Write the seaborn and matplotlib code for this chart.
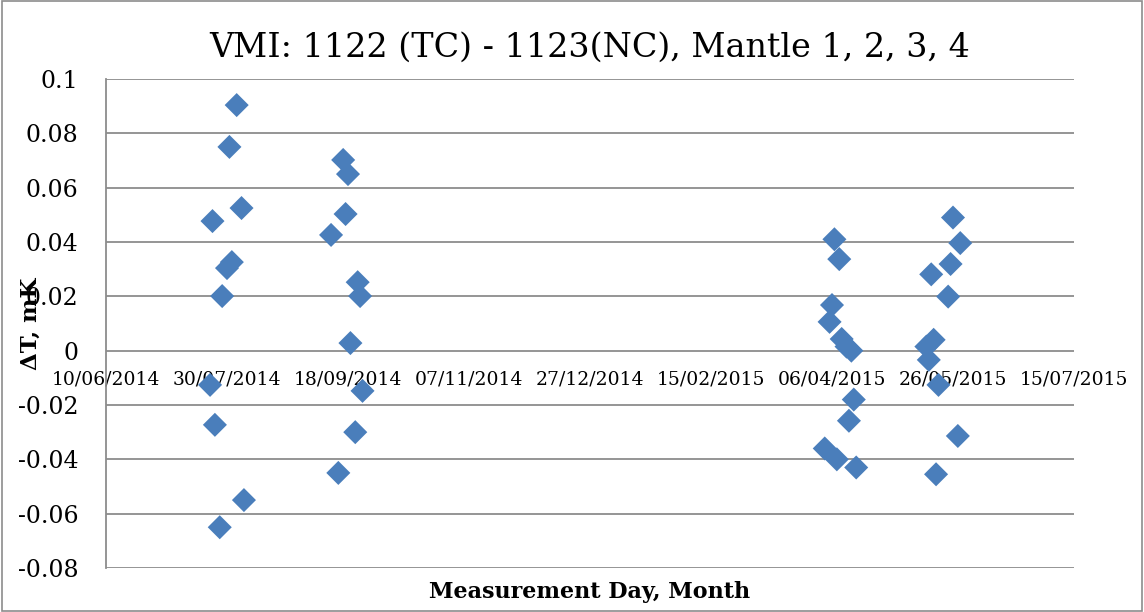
import matplotlib
matplotlib.use("Agg")
import matplotlib.pyplot as plt
import matplotlib.dates as mdates
import seaborn as sns
import pandas as pd
import numpy as np

# ---- data ----
dates_1 = ["2014-08-03", "2014-07-31", "2014-08-05", "2014-07-24", "2014-08-01",
           "2014-07-30", "2014-07-28", "2014-07-23", "2014-07-25", "2014-08-06", "2014-07-27"]
vals_1 = [0.0904, 0.075, 0.0525, 0.0477, 0.0326, 0.0304, 0.0201, -0.0126, -0.0273, -0.055, -0.065]

dates_2 = ["2014-09-16", "2014-09-18", "2014-09-17", "2014-09-11", "2014-09-22",
           "2014-09-23", "2014-09-19", "2014-09-24", "2014-09-21", "2014-09-14"]
vals_2 = [0.0702, 0.065, 0.0503, 0.0426, 0.0252, 0.0201, 0.0028, -0.0148, -0.030, -0.045]

dates_3 = ["2015-04-07", "2015-04-09", "2015-04-06", "2015-04-05", "2015-04-10", "2015-04-12",
           "2015-04-14", "2015-04-15", "2015-04-13", "2015-04-03", "2015-04-08", "2015-04-16"]
vals_3 = [0.041, 0.0337, 0.0168, 0.0106, 0.0043, 0.0015, 0.0, -0.018, -0.0258, -0.036, -0.040, -0.043]

dates_4 = ["2015-05-26", "2015-05-29", "2015-05-25", "2015-05-17", "2015-05-24", "2015-05-18",
           "2015-05-15", "2015-05-16", "2015-05-20", "2015-05-28", "2015-05-19"]
vals_4 = [0.049, 0.0396, 0.0319, 0.0281, 0.0199, 0.004, 0.0015, -0.0034, -0.0126, -0.0314, -0.0455]

y_ticks = [-0.08, -0.06, -0.04, -0.02, 0, 0.02, 0.04, 0.06, 0.08, 0.1]
y_tick_labels = ["-0.08", "-0.06", "-0.04", "-0.02", "0", "0.02", "0.04", "0.06", "0.08", "0.1"]
x_ticks = ["2014-06-10", "2014-07-30", "2014-09-18", "2014-11-07", "2014-12-27",
           "2015-02-15", "2015-04-06", "2015-05-26", "2015-07-15"]

title = "VMI: 1122 (TC) - 1123(NC), Mantle 1, 2, 3, 4"
xlabel = "Measurement Day, Month"
ylabel = "ΔT, mK"

df = pd.DataFrame({
    "date": pd.to_datetime(dates_1 + dates_2 + dates_3 + dates_4),
    "dT": vals_1 + vals_2 + vals_3 + vals_4,
})

sns.set_theme(style="white")
plt.rcParams["font.family"] = ["DejaVu Serif"]
plt.rcParams["text.color"] = "black"
plt.rcParams["axes.labelcolor"] = "black"

fig = plt.figure(figsize=(11.44, 6.12), dpi=100)
ax = fig.add_axes([106 / 1144, 1 - 568 / 612, (1074 - 106) / 1144, (568 - 79) / 612])

sns.scatterplot(data=df, x="date", y="dT", marker="D", s=150, color="#4a7ebb",
                edgecolor="none", ax=ax, zorder=3, legend=False)

xt = pd.to_datetime(x_ticks)
ax.set_xlim(xt[0], xt[-1])
ax.set_ylim(-0.08, 0.1)
ax.set_xticks(xt)
ax.xaxis.set_major_formatter(mdates.DateFormatter("%d/%m/%Y"))
ax.set_yticks(y_ticks)
ax.set_yticklabels(y_tick_labels)

ax.grid(axis="y", color="#8c8c8c", linewidth=1.3)
ax.grid(axis="x", visible=False)
ax.set_axisbelow(True)

for s in ["top", "right"]:
    ax.spines[s].set_visible(False)
ax.spines["left"].set_color("#8c8c8c")
ax.spines["left"].set_linewidth(1.3)
ax.spines["bottom"].set_position(("data", 0))
ax.spines["bottom"].set_visible(False)

ax.tick_params(axis="x", length=0, pad=14, labelsize=13.5, colors="black")
ax.tick_params(axis="y", length=0, pad=20, labelsize=17, colors="black")

ax.set_title(title, fontsize=24, pad=16, color="black")
ax.set_xlabel(xlabel, fontsize=16, fontweight="bold", color="black")
ax.set_ylabel(ylabel, fontsize=16.5, fontweight="bold", color="black")
ax.xaxis.set_label_coords(0.5, -0.026)
ax.yaxis.set_label_coords(-0.066, 0.5)

# chart-area border
fig.patches.append(plt.Rectangle((0.002, 0.002), 0.996, 0.996, transform=fig.transFigure,
                                 fill=False, edgecolor="#8c8c8c", linewidth=1.2))

fig.savefig("out.png", dpi=100)
